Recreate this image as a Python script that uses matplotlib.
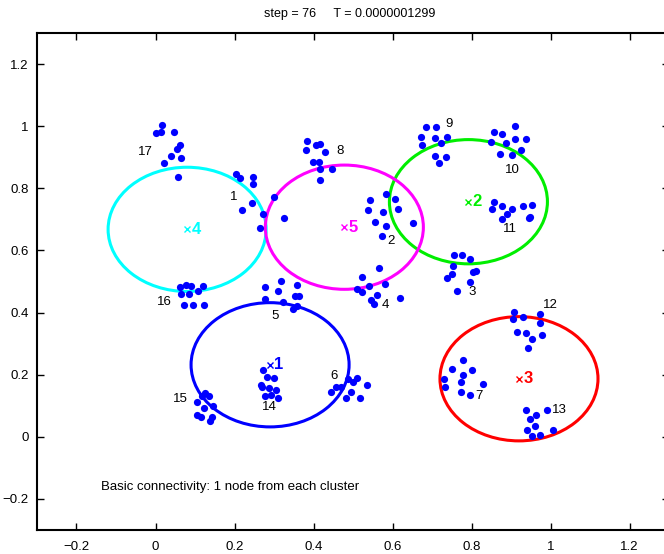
import numpy as np
import matplotlib
matplotlib.use("Agg")
import matplotlib.pyplot as plt
from matplotlib.patches import Ellipse

plt.rcParams['font.family'] = ['Liberation Sans', 'DejaVu Sans']

# puntos de cada cluster (x, y)
clusters = {
    17: ([0.017, 0.001, 0.015, 0.048, 0.061, 0.055, 0.040, 0.065, 0.021, 0.056],
         [1.004, 0.977, 0.982, 0.982, 0.939, 0.928, 0.904, 0.897, 0.883, 0.836]),
    1: ([0.204, 0.215, 0.246, 0.246, 0.243, 0.220, 0.300, 0.273, 0.325, 0.265],
        [0.847, 0.832, 0.835, 0.815, 0.753, 0.731, 0.773, 0.718, 0.705, 0.671]),
    8: ([0.383, 0.405, 0.417, 0.380, 0.430, 0.398, 0.414, 0.417, 0.446, 0.417],
        [0.953, 0.939, 0.942, 0.923, 0.918, 0.886, 0.886, 0.862, 0.862, 0.826]),
    2: ([0.584, 0.543, 0.607, 0.539, 0.576, 0.615, 0.555, 0.584, 0.653, 0.574],
        [0.782, 0.762, 0.765, 0.730, 0.724, 0.735, 0.693, 0.680, 0.690, 0.647]),
    4: ([0.566, 0.523, 0.582, 0.540, 0.509, 0.522, 0.561, 0.618, 0.545, 0.554],
        [0.544, 0.516, 0.491, 0.485, 0.476, 0.467, 0.456, 0.446, 0.439, 0.429]),
    5: ([0.277, 0.318, 0.310, 0.357, 0.278, 0.323, 0.352, 0.362, 0.349, 0.357],
        [0.482, 0.503, 0.469, 0.489, 0.445, 0.433, 0.453, 0.453, 0.411, 0.420]),
    16: ([0.061, 0.076, 0.091, 0.120, 0.064, 0.085, 0.108, 0.072, 0.094, 0.123],
         [0.482, 0.489, 0.487, 0.487, 0.461, 0.461, 0.468, 0.425, 0.425, 0.425]),
    14: ([0.273, 0.282, 0.301, 0.267, 0.269, 0.288, 0.305, 0.277, 0.293, 0.310],
         [0.214, 0.193, 0.188, 0.168, 0.160, 0.156, 0.152, 0.132, 0.136, 0.126]),
    15: ([0.125, 0.117, 0.135, 0.104, 0.123, 0.145, 0.104, 0.115, 0.143, 0.137],
         [0.141, 0.132, 0.130, 0.111, 0.093, 0.100, 0.071, 0.065, 0.065, 0.051]),
    6: ([0.486, 0.511, 0.499, 0.535, 0.456, 0.469, 0.444, 0.494, 0.483, 0.517],
        [0.185, 0.191, 0.175, 0.168, 0.159, 0.160, 0.143, 0.144, 0.125, 0.124]),
    9: ([0.684, 0.709, 0.673, 0.707, 0.737, 0.723, 0.675, 0.707, 0.736, 0.717],
        [0.997, 0.997, 0.965, 0.962, 0.965, 0.945, 0.939, 0.904, 0.900, 0.883]),
    10: ([0.858, 0.876, 0.910, 0.909, 0.939, 0.849, 0.886, 0.924, 0.872, 0.902],
         [0.982, 0.974, 1.001, 0.960, 0.960, 0.949, 0.945, 0.924, 0.910, 0.909]),
    11: ([0.858, 0.852, 0.877, 0.903, 0.890, 0.877, 0.930, 0.954, 0.949, 0.945],
         [0.757, 0.735, 0.742, 0.732, 0.716, 0.701, 0.742, 0.745, 0.709, 0.704]),
    3: ([0.756, 0.776, 0.795, 0.754, 0.804, 0.811, 0.751, 0.739, 0.797, 0.764],
        [0.584, 0.587, 0.572, 0.551, 0.531, 0.535, 0.524, 0.510, 0.497, 0.471]),
    7: ([0.779, 0.751, 0.779, 0.801, 0.730, 0.732, 0.774, 0.829, 0.772, 0.796],
        [0.246, 0.218, 0.200, 0.215, 0.187, 0.161, 0.176, 0.169, 0.144, 0.135]),
    12: ([0.908, 0.929, 0.905, 0.973, 0.973, 0.915, 0.938, 0.977, 0.952, 0.943],
         [0.402, 0.386, 0.381, 0.394, 0.365, 0.339, 0.335, 0.328, 0.316, 0.287]),
    13: ([0.938, 0.963, 0.991, 0.949, 0.960, 0.941, 1.005, 0.954, 0.974],
         [0.085, 0.069, 0.088, 0.056, 0.035, 0.023, 0.022, 0.004, 0.007]),
}

# posicion de la etiqueta de cada cluster
label_pos = {
    17: (-0.025, 0.916), 1: (0.198, 0.771), 8: (0.468, 0.919), 2: (0.595, 0.632),
    4: (0.583, 0.423), 5: (0.303, 0.390), 16: (0.023, 0.435), 14: (0.288, 0.097),
    15: (0.064, 0.123), 6: (0.453, 0.197), 9: (0.743, 1.006), 10: (0.903, 0.858),
    11: (0.896, 0.668), 3: (0.802, 0.465), 7: (0.819, 0.132), 12: (1.000, 0.423),
    13: (1.023, 0.087),
}

# centros de los circulos
centers_x = [0.290, 0.792, 0.920, 0.080, 0.478]
centers_y = [0.232, 0.757, 0.187, 0.668, 0.675]
center_names = ['1', '2', '3', '4', '5']
center_colors = ['#0000ff', '#00ee00', '#ff0000', '#00ffff', '#ff00ff']
radius = 0.2

fig = plt.figure(figsize=(6.64, 5.54), dpi=100)
# el borde derecho queda fuera de la imagen, como en el original
ax = fig.add_axes([0.0557, 0.0433, 0.952, 0.897])

for k, (xs, ys) in clusters.items():
    ax.plot(xs, ys, 'o', color='#0000ff', markersize=5.2, markeredgewidth=0)
    lx, ly = label_pos[k]
    ax.text(lx, ly, str(k), ha='center', va='center', fontsize=9.5, color='black')

for cx, cy, name, col in zip(centers_x, centers_y, center_names, center_colors):
    ax.add_patch(Ellipse((cx, cy), 2 * radius, 2 * radius, fill=False,
                         edgecolor=col, linewidth=2.2))
    ax.plot(cx, cy, 'x', color=col, markersize=5, markeredgewidth=1)
    ax.annotate(name, (cx, cy), xytext=(3, 0), textcoords='offset points',
                ha='left', va='center', fontsize=12, fontweight='bold', color=col)

ax.text(-0.137, -0.161, 'Basic connectivity: 1 node from each cluster',
        ha='left', va='center', fontsize=9.5)

ax.set_xlim(-0.3, 1.3)
ax.set_ylim(-0.3, 1.3)
ax.set_xticks([-0.2, 0, 0.2, 0.4, 0.6, 0.8, 1, 1.2])
ax.set_yticks([-0.2, 0, 0.2, 0.4, 0.6, 0.8, 1, 1.2])
ax.set_xticklabels(['\u22120.2', '0', '0.2', '0.4', '0.6', '0.8', '1', '1.2'])
ax.set_yticklabels(['\u22120.2', '0', '0.2', '0.4', '0.6', '0.8', '1', '1.2'])
ax.tick_params(direction='in', top=True, right=True, length=5, width=1,
               labelsize=9.5, pad=6)
ax.tick_params(axis='x', pad=8)
for s in ax.spines.values():
    s.set_linewidth(1.5)

fig.text(0.527, 0.975, 'step = 76     T = 0.0000001299', ha='center', va='center',
         fontsize=9)

fig.savefig('out.png', dpi=100)
